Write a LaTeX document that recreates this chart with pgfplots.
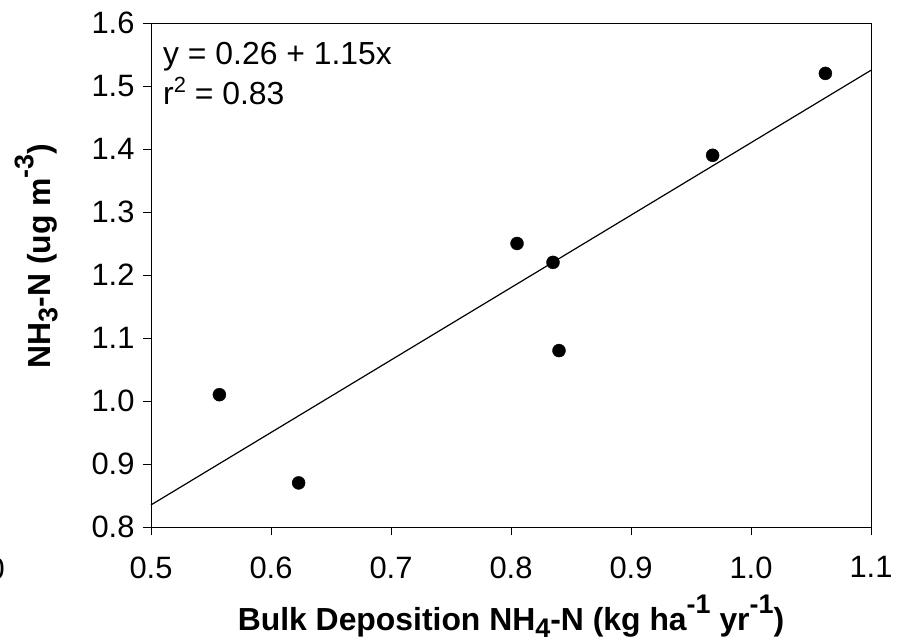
\documentclass[border=0pt]{standalone}
\usepackage{fontspec}
\setmainfont{Liberation Sans}
\usepackage{pgfplots}
\pgfplotsset{compat=1.18}
\newcommand\sups[1]{\raisebox{0.55em}{\fontsize{27}{27}\selectfont #1}}
\newcommand\subs[1]{\raisebox{-0.20em}{\fontsize{27}{27}\selectfont #1}}
\newcommand\supa[1]{\raisebox{0.40em}{\fontsize{22}{22}\selectfont #1}}
\begin{document}
\begin{tikzpicture}[x=1bp,y=1bp]
\path[use as bounding box] (0,0) rectangle (904,642);
\begin{axis}[
  at={(151bp,115bp)}, anchor=south west,
  width=720bp, height=504bp, scale only axis,
  xmin=0.5, xmax=1.1, ymin=0.8, ymax=1.6,
  xtick={0.5,0.6,...,1.1}, ytick={0.8,0.9,...,1.6},
  tick align=outside, tick pos=left,
  major tick length=8bp,
  axis line style={line width=0.9bp},
  tick style={line width=0.9bp, black},
  /pgf/number format/assume math mode=true,
  /pgf/number format/fixed,
  /pgf/number format/fixed zerofill,
  /pgf/number format/precision=1,
  ticklabel style={font=\fontsize{31}{36}\selectfont},
  xticklabel style={yshift=-18bp},
  yticklabel style={xshift=-5bp},
  xlabel={\bfseries Bulk Deposition NH\subs{4}-N (kg ha\sups{-1} yr\sups{-1})},
  ylabel={\bfseries NH\subs{3}-N (ug m\sups{-3})},
  label style={font=\fontsize{32}{36}\selectfont},
  xlabel style={at={(axis description cs:0.5,-0.2063)}, anchor=base},
  ylabel style={at={(axis description cs:-0.1389,0.5377)}, anchor=base},
  clip=false,
]
\addplot[only marks, mark=*, mark size=6.5bp, black] coordinates {
(0.557,1.01) (0.623,0.87) (0.805,1.25) (0.835,1.22) (0.840,1.08) (0.968,1.39) (1.062,1.52)
};
\addplot[black, line width=1.2bp, no marks] coordinates {(0.5,0.835) (1.1,1.525)};
\node[anchor=base west, font=\fontsize{32}{36}\selectfont, inner sep=0pt]
  at (axis description cs:0.0167,0.9167) {y = 0.26 + 1.15x};
\node[anchor=base west, font=\fontsize{32}{36}\selectfont, inner sep=0pt]
  at (axis description cs:0.0167,0.8373) {r\supa{2} = 0.83};
\node[anchor=base east, font=\fontsize{31}{36}\selectfont, inner sep=0pt]
  at (axis description cs:-0.2028,-0.1032) {0};
\end{axis}
\end{tikzpicture}
\end{document}
